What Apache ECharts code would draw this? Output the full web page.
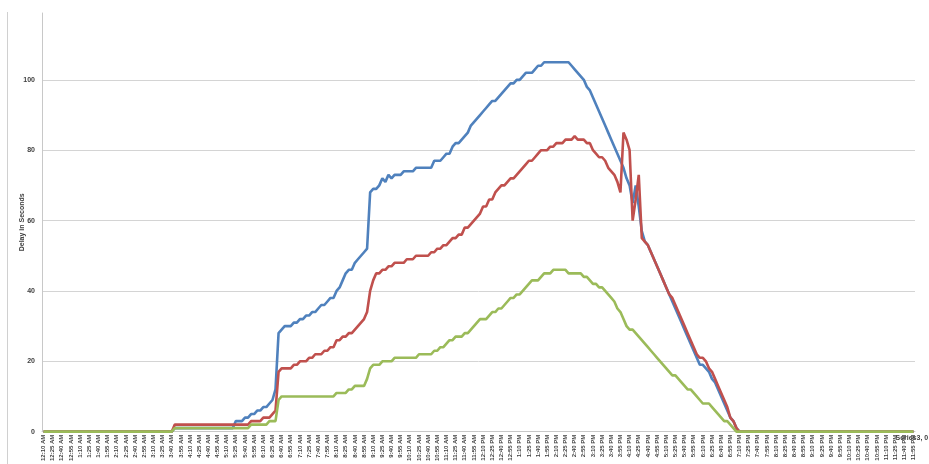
<!DOCTYPE html>
<html>
<head>
<meta charset="utf-8">
<title>Delay in Seconds</title>
<script src="https://cdn.jsdelivr.net/npm/echarts@6/dist/echarts.min.js"></script>
<style>
html, body { margin: 0; padding: 0; background: #fff; }
#main { width: 929px; height: 464px; }
</style>
</head>
<body>
<div id="main"></div>
<script>
// time axis: one point every 5 minutes, 12:10 AM .. 11:55 PM (286 points)
var startMinute = 10;
var stepMinutes = 5;
var pointCount = 286;

// Series1 (blue)
var series1 = [
    0,0,0,0,0,0,0,0,0,0, 0,0,0,0,0,0,0,0,0,0, 0,0,0,0,0,0,0,0,0,0, 0,0,0,0,0,0,0,0,0,0, 0,0,0,
    1,1,1,1,1,1,1,1,1,1, 1,1,1,1,1,1,1,1,1,1,
    3,3,3,4,4,5,5,6,6,7,
    7,8,9,12,28,29,30,30,30,31,
    31,32,32,33,33,34,34,35,36,36,
    37,38,38,40,41,43,45,46,46,48,
    49,50,51,52,68,69,69,70,72,71,
    73,72,73,73,73,74,74,74,74,75,
    75,75,75,75,75,77,77,77,78,79,
    79,81,82,82,83,84,85,87,88,89,
    90,91,92,93,94,94,95,96,97,98,
    99,99,100,100,101,102,102,102,103,104,
    104,105,105,105,105,105,105,105,105,105,
    104,103,102,101,100,98,97,95,93,91,
    89,87,85,83,81,79,77,75,72,70,
    65,70,64,57,54,53,51,49,47,45,
    43,41,39,37,35,33,31,29,27,25,
    23,21,19,19,18,17,15,14,12,10,
    8,6,4,3,1,
    0,0,0,0,0,0,0,0,0,0, 0,0,0,0,0,0,0,0,0,0, 0,0,0,0,0,0,0,0,0,0, 0,0,0,0,0,0,0,0,0,0, 0,0,0,0,0,0,0,0,0,0, 0,0,0,0,0,0,0,0
];

// Series2 (red)
var series2 = [
    0,0,0,0,0,0,0,0,0,0, 0,0,0,0,0,0,0,0,0,0, 0,0,0,0,0,0,0,0,0,0, 0,0,0,0,0,0,0,0,0,0, 0,0,0,
    2,2,2,2,2,2,2,2,2,2, 2,2,2,2,2,2,2,2,2,2, 2,2,2,2,2,
    3,3,3,3,4,4,4,5,6,17,
    18,18,18,18,19,19,20,20,20,21,
    21,22,22,22,23,23,24,24,26,26,
    27,27,28,28,29,30,31,32,34,40,
    43,45,45,46,46,47,47,48,48,48,
    48,49,49,49,50,50,50,50,50,51,
    51,52,52,53,53,54,55,55,56,56,
    58,58,59,60,61,62,64,64,66,66,
    68,69,70,70,71,72,72,73,74,75,
    76,77,77,78,79,80,80,80,81,81,
    82,82,82,83,83,83,84,83,83,83,
    82,82,80,79,78,78,77,75,74,73,
    71,68,85,83,80,60,66,73,55,54,
    53,51,49,47,45,43,41,39,38,36,
    34,32,30,28,26,24,22,21,21,20,
    18,17,15,13,11,9,7,4,3,1,
    0,0,0,0,0,0,0,0,0,0, 0,0,0,0,0,0,0,0,0,0, 0,0,0,0,0,0,0,0,0,0, 0,0,0,0,0,0,0,0,0,0, 0,0,0,0,0,0,0,0,0,0, 0,0,0,0,0,0,0,0
];

// Series3 (green)
var series3 = [
    0,0,0,0,0,0,0,0,0,0, 0,0,0,0,0,0,0,0,0,0, 0,0,0,0,0,0,0,0,0,0, 0,0,0,0,0,0,0,0,0,0, 0,0,0,
    1,1,1,1,1,1,1,1,1,1, 1,1,1,1,1,1,1,1,1,1, 1,1,1,1,1,
    2,2,2,2,2,2,3,3,3,9,
    10,10,10,10,10,10,10,10,10,10,
    10,10,10,10,10,10,10,10,11,11,
    11,11,12,12,13,13,13,13,15,18,
    19,19,19,20,20,20,20,21,21,21,
    21,21,21,21,21,22,22,22,22,22,
    23,23,24,24,25,26,26,27,27,27,
    28,28,29,30,31,32,32,32,33,34,
    34,35,35,36,37,38,38,39,39,40,
    41,42,43,43,43,44,45,45,45,46,
    46,46,46,46,45,45,45,45,45,44,
    44,43,42,42,41,41,40,39,38,37,
    35,34,32,30,29,29,28,27,26,25,
    24,23,22,21,20,19,18,17,16,16,
    15,14,13,12,12,11,10,9,8,8,
    8,7,6,5,4,3,3,2,1,0,
    0,0,0,0,0,0,0,0,0,0, 0,0,0,0,0,0,0,0,0,0, 0,0,0,0,0,0,0,0,0,0, 0,0,0,0,0,0,0,0,0,0, 0,0,0,0,0,0,0,0,0,0, 0,0,0,0,0,0,0,0
];

var seriesNames = ['Series1', 'Series2', 'Series3'];
var seriesColors = ['#4F81BD', '#C0504D', '#9BBB59'];
var yTicks = [0, 20, 40, 60, 80, 100];

var timeLabels = [];
for (var i = 0; i < pointCount; i++) {
    var m = startMinute + i * stepMinutes;
    var h = Math.floor(m / 60);
    var mm = m % 60;
    var ap = h < 12 ? 'AM' : 'PM';
    var h12 = h % 12 === 0 ? 12 : h % 12;
    timeLabels.push(h12 + ':' + (mm < 10 ? '0' : '') + mm + ' ' + ap);
}

var allData = [series1, series2, series3];
var font = 'Liberation Sans, Arial, sans-serif';

var myChart = echarts.init(document.getElementById('main'));
var option = {
    backgroundColor: '#fff',
    animation: false,
    textStyle: { fontFamily: font },
    grid: { left: 42, right: 14, top: 13, bottom: 26 },
    graphic: [{
        type: 'line',
        shape: { x1: 7.5, y1: 12, x2: 7.5, y2: 464 },
        style: { stroke: '#d0d0d0', lineWidth: 1 }
    }],
    xAxis: {
        type: 'category',
        data: timeLabels,
        boundaryGap: true,
        axisLine: { show: true, lineStyle: { color: '#c8c8c8', width: 1 } },
        axisTick: { show: false },
        axisLabel: {
            interval: 2,
            rotate: 90,
            fontSize: 6,
            fontWeight: 'bold',
            color: '#404040',
            margin: 3
        }
    },
    yAxis: {
        type: 'value',
        min: 0,
        max: 119,
        interval: 20,
        name: 'Delay in Seconds',
        nameLocation: 'middle',
        nameGap: 16,
        nameMoveOverlap: false,
        nameRotate: 90,
        nameTextStyle: { fontSize: 7, fontWeight: 'bold', color: '#404040' },
        axisLine: { show: true, lineStyle: { color: '#c8c8c8', width: 1 } },
        axisTick: { show: false },
        axisLabel: {
            fontSize: 7,
            fontWeight: 'bold',
            color: '#404040',
            margin: 7,
            formatter: function (v) {
                return yTicks.indexOf(v) >= 0 ? String(v) : '';
            }
        },
        splitLine: {
            lineStyle: {
                color: ['#d4d4d4', '#d4d4d4', '#d4d4d4', '#d4d4d4', '#d4d4d4', '#d4d4d4', 'rgba(0,0,0,0)'],
                width: 1
            }
        }
    },
    series: allData.map(function (d, k) {
        var s = {
            name: seriesNames[k],
            type: 'line',
            data: d,
            showSymbol: false,
            symbol: 'none',
            smooth: false,
            lineStyle: { color: seriesColors[k], width: 2.6 },
            itemStyle: { color: seriesColors[k] },
            z: 2 + k
        };
        if (k === 2) {
            // data label on the last point of Series3
            s.endLabel = {
                show: true,
                distance: 0,
                offset: [-18, 6],
                formatter: function (p) { return p.seriesName + ', ' + p.value; },
                fontSize: 7,
                fontWeight: 'bold',
                color: '#404040'
            };
        }
        return s;
    })
};
myChart.setOption(option);
</script>
</body>
</html>
